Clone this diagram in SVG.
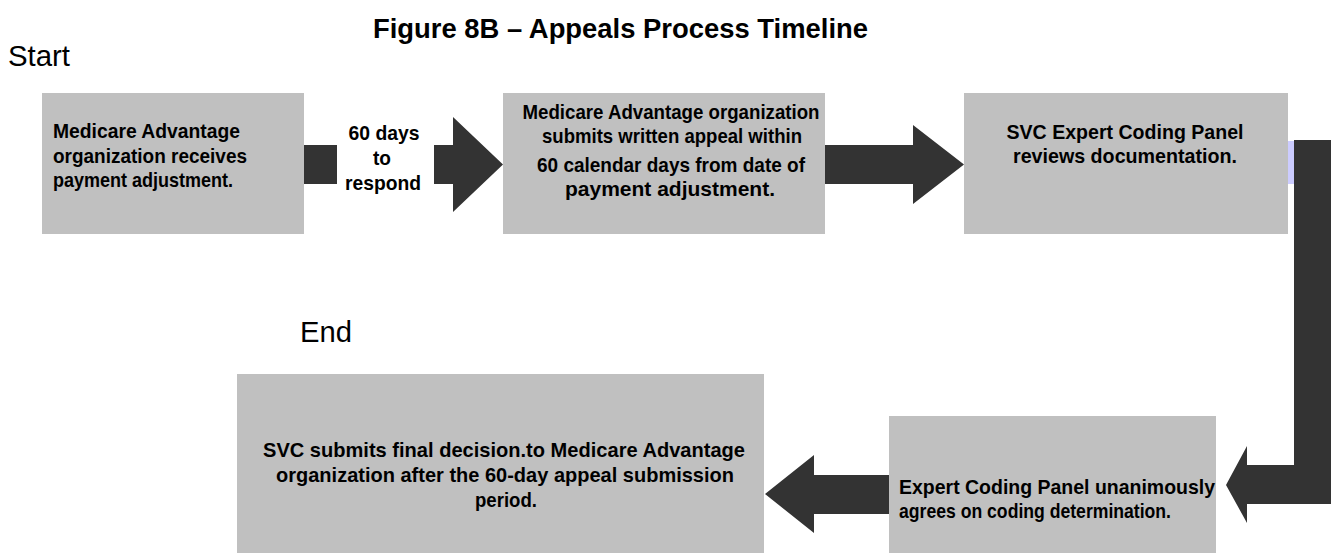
<svg xmlns="http://www.w3.org/2000/svg" width="1331" height="553" viewBox="0 0 1331 553">
<style>
.box{fill:#c0c0c0}
.arr{fill:#333333}
.t{font-family:"Liberation Sans Narrow","Liberation Sans",Arial,sans-serif;font-weight:bold;font-size:21px;fill:#000}
.c{text-anchor:middle}
.title{font-family:"Liberation Sans",Arial,sans-serif;font-weight:bold;font-size:27px;fill:#000}
.lbl{font-family:"Liberation Sans Narrow","Liberation Sans",Arial,sans-serif;font-size:30px;fill:#000}
</style>
<rect width="1331" height="553" fill="#fff"/>
<text class="title" x="373" y="38" textLength="495" lengthAdjust="spacingAndGlyphs">Figure 8B – Appeals Process Timeline</text>
<text class="lbl" x="8" y="66" textLength="62" lengthAdjust="spacingAndGlyphs">Start</text>
<text class="lbl" x="300" y="342" textLength="52" lengthAdjust="spacingAndGlyphs">End</text>

<g id="connectors">
<rect class="arr" x="304" y="145" width="33" height="39"/>
<polygon class="arr" points="434,145 453,145 453,117 503,164.5 453,212 453,184 434,184"/>
<polygon class="arr" points="825,145 913,145 913,125 964,164.5 913,204 913,184 825,184"/>
<rect x="1288" y="141" width="8" height="43" fill="#ccccff"/>
<polygon class="arr" points="1294,140 1331,140 1331,504 1247,504 1247,523 1226,485 1247,446 1247,465 1294,465"/>
<polygon class="arr" points="889,475 814,475 814,455 765,494 814,533 814,514 889,514"/>
</g>

<g id="n1">
<rect class="box" x="42" y="93" width="262" height="141"/>
<text class="t" x="53" y="138" textLength="187" lengthAdjust="spacingAndGlyphs">Medicare Advantage</text>
<text class="t" x="53" y="163" textLength="194" lengthAdjust="spacingAndGlyphs">organization receives</text>
<text class="t" x="53" y="187" textLength="180" lengthAdjust="spacingAndGlyphs">payment adjustment.</text>
</g>

<g id="n1label">
<text class="t c" x="384" y="140" textLength="71" lengthAdjust="spacingAndGlyphs">60 days</text>
<text class="t c" x="382" y="165" textLength="18" lengthAdjust="spacingAndGlyphs">to</text>
<text class="t c" x="383" y="190" textLength="76" lengthAdjust="spacingAndGlyphs">respond</text>
</g>

<g id="n2">
<rect class="box" x="503" y="93" width="322" height="141"/>
<text class="t c" x="671" y="119" textLength="297" lengthAdjust="spacingAndGlyphs">Medicare Advantage organization</text>
<text class="t c" x="672" y="143" textLength="260" lengthAdjust="spacingAndGlyphs">submits written appeal within</text>
<text class="t c" x="671" y="172" textLength="268" lengthAdjust="spacingAndGlyphs">60 calendar days from date of</text>
<text class="t c" x="670" y="196" textLength="210" lengthAdjust="spacingAndGlyphs">payment adjustment.</text>
</g>

<g id="n3">
<rect class="box" x="964" y="93" width="324" height="141"/>
<text class="t c" x="1125" y="139" textLength="237" lengthAdjust="spacingAndGlyphs">SVC Expert Coding Panel</text>
<text class="t c" x="1125" y="163" textLength="224" lengthAdjust="spacingAndGlyphs">reviews documentation.</text>
</g>

<g id="n4">
<rect class="box" x="889" y="416" width="327" height="137"/>
<text class="t" x="899" y="494" textLength="316" lengthAdjust="spacingAndGlyphs">Expert Coding Panel unanimously</text>
<text class="t" x="899" y="518" textLength="272" lengthAdjust="spacingAndGlyphs">agrees on coding determination.</text>
</g>

<g id="n5">
<rect class="box" x="237" y="374" width="527" height="179"/>
<text class="t c" x="504" y="457" textLength="482" lengthAdjust="spacingAndGlyphs">SVC submits final decision.to Medicare Advantage</text>
<text class="t c" x="505" y="482" textLength="458" lengthAdjust="spacingAndGlyphs">organization after the 60-day appeal submission</text>
<text class="t c" x="506" y="507" textLength="62" lengthAdjust="spacingAndGlyphs">period.</text>
</g>
</svg>
